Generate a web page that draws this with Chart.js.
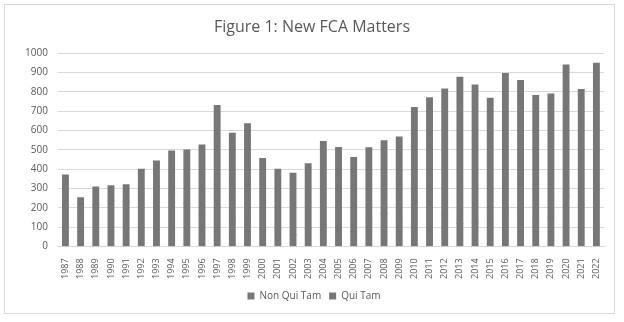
<!DOCTYPE html>
<html>
<head>
<meta charset="utf-8">
<script src="https://cdn.jsdelivr.net/npm/chart.js@4/dist/chart.umd.min.js"></script>
<style>
  html, body { margin: 0; padding: 0; background: #fff; }
  #wrap { width: 624px; height: 322px; position: relative; }
</style>
</head>
<body>
<div id="wrap"><canvas id="c" width="624" height="322"></canvas></div>
<script>
// Fiscal years
const years = [
  '1987','1988','1989','1990','1991','1992','1993','1994','1995','1996',
  '1997','1998','1999','2000','2001','2002','2003','2004','2005','2006',
  '2007','2008','2009','2010','2011','2012','2013','2014','2015','2016',
  '2017','2018','2019','2020','2021','2022'
];

// New matters opened by the government (referrals / investigations)
const nonQuiTam = [
  340, 192, 213, 234, 230, 281, 311, 274, 222, 165,
  200, 117, 155, 90, 90, 59, 93, 111, 118, 77,
  145, 169, 134, 144, 132, 163, 119, 122, 130, 193,
  182, 131, 153, 263, 214, 297
];

// New matters filed by relators
const quiTam = [
  30, 60, 95, 81, 90, 119, 131, 220, 278, 360,
  530, 469, 480, 365, 310, 320, 335, 433, 395, 384,
  366, 379, 433, 576, 638, 652, 757, 714, 638, 703,
  677, 651, 636, 676, 598, 652
];

const yTicks = [0, 100, 200, 300, 400, 500, 600, 700, 800, 900, 1000];

const barGrey = '#777777';
const textGrey = '#595959';
const FONT = '"Open Sans", "Liberation Sans", sans-serif';

// White background and the thin frame around the whole figure
const framePlugin = {
  id: 'frame',
  beforeDraw(chart) {
    const ctx = chart.ctx;
    ctx.save();
    ctx.fillStyle = '#ffffff';
    ctx.fillRect(0, 0, chart.width, chart.height);
    ctx.strokeStyle = '#d9d9d9';
    ctx.lineWidth = 1;
    ctx.strokeRect(4.5, 4.5, 610, 309);
    ctx.restore();
  }
};

// Center the title and legend on the page rather than on the padded box
const centerPlugin = {
  id: 'centerBoxes',
  afterLayout(chart) {
    const shift = (box, dx) => {
      if (!box) return;
      box.left += dx;
      box.right += dx;
    };
    shift(chart.titleBlock, 2.5);
    shift(chart.legend, 4.5);
  }
};

new Chart(document.getElementById('c'), {
  type: 'bar',
  data: {
    labels: years,
    datasets: [
      { label: 'Non Qui Tam', data: nonQuiTam, backgroundColor: barGrey, borderWidth: 0, inflateAmount: 0.4 },
      { label: 'Qui Tam', data: quiTam, backgroundColor: barGrey, borderWidth: 0, inflateAmount: 0.4 }
    ]
  },
  options: {
    responsive: false,
    animation: false,
    devicePixelRatio: 1,
    datasets: { bar: { categoryPercentage: 1.0, barPercentage: 0.4 } },
    layout: { padding: { left: 15, right: 20, top: 8, bottom: 11 } },
    plugins: {
      title: {
        display: true,
        text: 'Figure 1: New FCA Matters',
        color: textGrey,
        font: { family: FONT, size: 16, weight: 'normal' },
        padding: { top: 10, bottom: 16 }
      },
      legend: {
        position: 'bottom',
        labels: {
          color: textGrey,
          font: { family: FONT, size: 10 },
          boxWidth: 7,
          boxHeight: 7,
          padding: 8
        }
      },
      tooltip: { enabled: false }
    },
    scales: {
      x: {
        stacked: true,
        grid: { display: false },
        border: { display: true, color: '#d9d9d9' },
        ticks: {
          color: textGrey,
          font: { family: FONT, size: 9 },
          minRotation: 90,
          maxRotation: 90,
          autoSkip: false,
          padding: 4
        }
      },
      y: {
        stacked: true,
        min: 0,
        max: 1000,
        afterBuildTicks(axis) { axis.ticks = yTicks.map(v => ({ value: v })); },
        grid: { color: '#d9d9d9', drawTicks: false },
        border: { display: false },
        ticks: {
          color: textGrey,
          font: { family: FONT, size: 10 },
          padding: 10,
          callback: (v) => String(v)
        }
      }
    }
  },
  plugins: [framePlugin, centerPlugin]
});
</script>
</body>
</html>
